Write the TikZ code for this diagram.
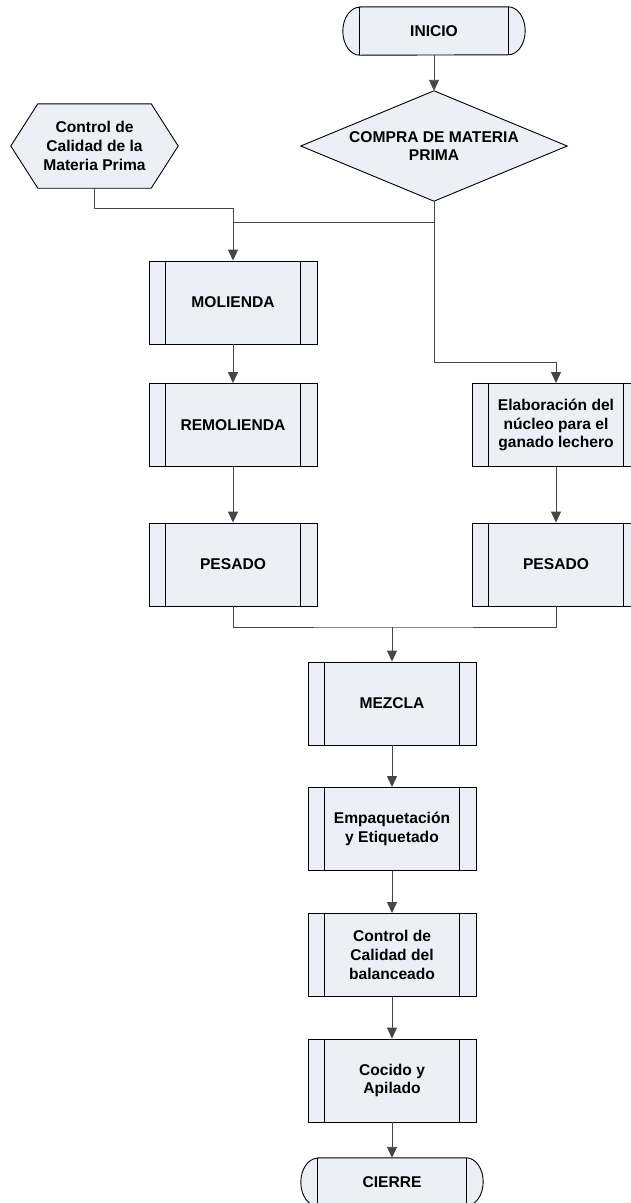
\documentclass[tikz,border=0pt]{standalone}
\usepackage{fontspec}
\setmainfont{Liberation Sans}
\usetikzlibrary{arrows.meta,backgrounds}
\definecolor{boxfill}{RGB}{236,239,245}
\definecolor{linegray}{RGB}{70,70,70}
\begin{document}
\begin{tikzpicture}[x=1pt,y=-1pt,
  every node/.style={font=\fontsize{15.6}{18.8}\selectfont\bfseries, align=center, inner sep=0pt},
  proc/.style={draw=black, fill=boxfill, line width=0.9pt, minimum width=168pt, minimum height=83pt},
  term/.style={minimum width=148pt, minimum height=48pt},
  shapeline/.style={draw=black, fill=boxfill, line width=0.9pt},
  conn/.style={draw=linegray, line width=0.9pt},
  arr/.style={conn, -{Triangle[length=11pt,width=10pt]}}]
\useasboundingbox (0,0) rectangle (631,1203);
\clip (0,0) rectangle (631,1203);

% nodes
\node[term] (ini) at (434,31) {INICIO};
\node[minimum width=266pt, minimum height=110pt] (compra) at (434,146) {COMPRA DE MATERIA\\PRIMA};
\node[minimum width=167pt, minimum height=84pt] (hex) at (94.5,146) {Control de\\Calidad de la\\Materia Prima};
\node[proc] (mol) at (233,302.5) {MOLIENDA};
\node[proc] (remol) at (233,425) {REMOLIENDA};
\node[proc] (pesL) at (233,564.5) {PESADO};
\node[proc] (elab) at (556,425) {Elaboración del\\núcleo para el\\ganado lechero};
\node[proc] (pesR) at (556,564.5) {PESADO};
\node[proc] (mez) at (392,703.5) {MEZCLA};
\node[proc] (emp) at (392,829) {Empaquetación\\y Etiquetado};
\node[proc] (ctrl) at (392,955) {Control de\\Calidad del\\balanceado};
\node[proc] (coc) at (392,1080.5) {Cocido y\\Apilado};
\node[term] (cie) at (392,1182) {CIERRE};

% outlines of special shapes
\begin{scope}[on background layer]
  \foreach \t in {ini,cie}{
    \path[shapeline] (\t.north west) -- (\t.north east)
      arc[start angle=90,end angle=-90,x radius=17pt,y radius=24pt]
      -- (\t.south west)
      arc[start angle=270,end angle=90,x radius=17pt,y radius=24pt] -- cycle;
  }
  \path[shapeline] (compra.north) -- (compra.east) -- (compra.south) -- (compra.west) -- cycle;
  \path[shapeline] ([xshift=27pt]hex.north west) -- ([xshift=-27pt]hex.north east) -- (hex.east)
    -- ([xshift=-27pt]hex.south east) -- ([xshift=27pt]hex.south west) -- (hex.west) -- cycle;
\end{scope}
\foreach \t in {ini,cie}{
  \draw[line width=0.9pt] (\t.north west) -- (\t.south west) (\t.north east) -- (\t.south east);
}
\foreach \p in {mol,remol,pesL,elab,pesR,mez,emp,ctrl,coc}{
  \draw[line width=0.9pt] ([xshift=17pt]\p.north west) -- ([xshift=17pt]\p.south west)
    ([xshift=-17pt]\p.north east) -- ([xshift=-17pt]\p.south east);
}

% connectors
\coordinate (h2) at (233,208);
\coordinate (j1) at (233,222);
\coordinate (c2) at (434,362);
\coordinate (j2) at (392,627);
\draw[arr] (ini.south) -- (compra.north);
\draw[arr] (hex.south) |- (h2) -- (mol.north);
\draw[conn] (compra.south) |- (j1);
\draw[arr] (compra.south) -- (c2) -| (elab.north);
\draw[arr] (mol.south) -- (remol.north);
\draw[arr] (remol.south) -- (pesL.north);
\draw[arr] (elab.south) -- (pesR.north);
\draw[conn] (pesL.south) |- (j2) -| (pesR.south);
\draw[arr] (j2) -- (mez.north);
\draw[arr] (mez.south) -- (emp.north);
\draw[arr] (emp.south) -- (ctrl.north);
\draw[arr] (ctrl.south) -- (coc.north);
\draw[arr] (coc.south) -- (cie.north);
\end{tikzpicture}
\end{document}
